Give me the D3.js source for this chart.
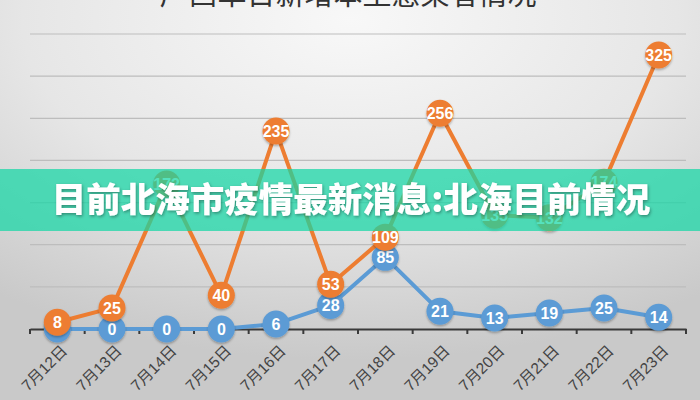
<!DOCTYPE html>
<html><head><meta charset="utf-8">
<script src="https://cdn.jsdelivr.net/npm/d3@7"></script>
<style>html,body{margin:0;padding:0;width:700px;height:400px;overflow:hidden;}</style>
</head><body>
<svg id="chart" width="700" height="400"></svg>
<script>
const dates = ['7月12日','7月13日','7月14日','7月15日','7月16日','7月17日','7月18日','7月19日','7月20日','7月21日','7月22日','7月23日'];
const orangeValues = [8,25,172,40,235,53,109,256,135,132,174,325];
const blueValues = [0,0,0,0,6,28,85,21,13,19,25,14];
const gridTicks = [50,100,150,200,250,300,350];
const titleText = '广西单日新增本土感染者情况';
const bannerText = '目前北海市疫情最新消息:北海目前情况';

const svg = d3.select('#chart');
const defs = svg.append('defs');
const rg = defs.append('radialGradient').attr('id','bg').attr('cx','50%').attr('cy','5%').attr('r','85%');
rg.append('stop').attr('offset','0%').attr('stop-color','#f8f8f8');
rg.append('stop').attr('offset','55%').attr('stop-color','#e6e6e6');
rg.append('stop').attr('offset','100%').attr('stop-color','#c9c9c9');
const sh = defs.append('filter').attr('id','sh').attr('x','-50%').attr('y','-50%').attr('width','200%').attr('height','200%');
sh.append('feDropShadow').attr('dx',0).attr('dy',1.5).attr('stdDeviation',1.2).attr('flood-color','#000').attr('flood-opacity',0.3);
const tsh = defs.append('filter').attr('id','tsh').attr('x','-10%').attr('y','-30%').attr('width','120%').attr('height','160%');
tsh.append('feDropShadow').attr('dx',1).attr('dy',1.5).attr('stdDeviation',1.5).attr('flood-color','#000').attr('flood-opacity',0.35);

svg.append('rect').attr('width',700).attr('height',400).attr('fill','url(#bg)');

const x = d3.scaleBand().domain(dates).range([30,686]);
const y = d3.scaleLinear().domain([0,350]).range([329,34]);
const cx = d => x(d) + x.bandwidth()/2;

// title (cut off at top)
svg.append('text').attr('x',348).attr('y',5).attr('text-anchor','middle')
  .attr('font-family','"Noto Sans CJK SC", sans-serif').attr('font-size',29).attr('fill','#333')
  .text(titleText);

// gridlines
svg.append('g').selectAll('line').data(gridTicks).join('line')
  .attr('x1',30).attr('x2',686).attr('y1',d=>y(d)).attr('y2',d=>y(d))
  .attr('stroke','#bdbdbd').attr('stroke-width',1.2);

// axis
const xAxis = d3.axisBottom(x).tickSize(0).tickFormat(()=> '');
const ax = svg.append('g').attr('transform',`translate(0,${y(0)})`).call(xAxis);
ax.select('.domain').attr('stroke','#3a3a3a').attr('stroke-width',2.2);
const edges = d3.range(dates.length+1).map(i => 30 + i*x.step());
ax.selectAll('line.edge').data(edges).join('line').attr('class','edge')
  .attr('x1',d=>d).attr('x2',d=>d).attr('y1',0).attr('y2',5)
  .attr('stroke','#3a3a3a').attr('stroke-width',2);
svg.append('g').selectAll('text').data(dates).join('text')
  .attr('transform',d=>`translate(${cx(d)+7},${y(0)+19}) rotate(-45)`)
  .attr('text-anchor','end').attr('dy','0.35em')
  .attr('font-family','"Liberation Sans", "Noto Sans CJK SC", sans-serif').attr('font-size',15.5).attr('fill','#444')
  .text(d=>d);

function series(vals, color){
  const pts = dates.map((d,i)=>({d, v: vals[i]}));
  const line = d3.line().x(p=>cx(p.d)).y(p=>y(p.v));
  svg.append('path').datum(pts).attr('d',line).attr('fill','none')
    .attr('stroke',color).attr('stroke-width',4).attr('stroke-linejoin','round');
  const g = svg.append('g').selectAll('g').data(pts).join('g')
    .attr('transform',p=>`translate(${cx(p.d)},${y(p.v)})`);
  g.append('circle').attr('r',13.5).attr('fill',color).attr('filter','url(#sh)');
  g.append('text').attr('text-anchor','middle').attr('dy','0.36em')
    .attr('font-family','"Liberation Sans Narrow", "Liberation Sans", Arial, sans-serif')
    .attr('font-weight','bold').attr('font-size',16).attr('fill','#fff')
    .text(p=>p.v);
}
series(blueValues,'#5b9bd5');
series(orangeValues,'#ed7d31');

// banner
svg.append('rect').attr('x',0).attr('y',169).attr('width',700).attr('height',62)
  .attr('fill','rgb(20,215,165)').attr('fill-opacity',0.72);
svg.append('text').attr('x',351).attr('y',200).attr('dy','0.36em').attr('text-anchor','middle')
  .attr('font-family','"Noto Sans CJK SC", sans-serif').attr('font-weight',900)
  .attr('font-size',34.5).attr('fill','#fff').attr('filter','url(#tsh)')
  .text(bannerText);
</script>
</body></html>
